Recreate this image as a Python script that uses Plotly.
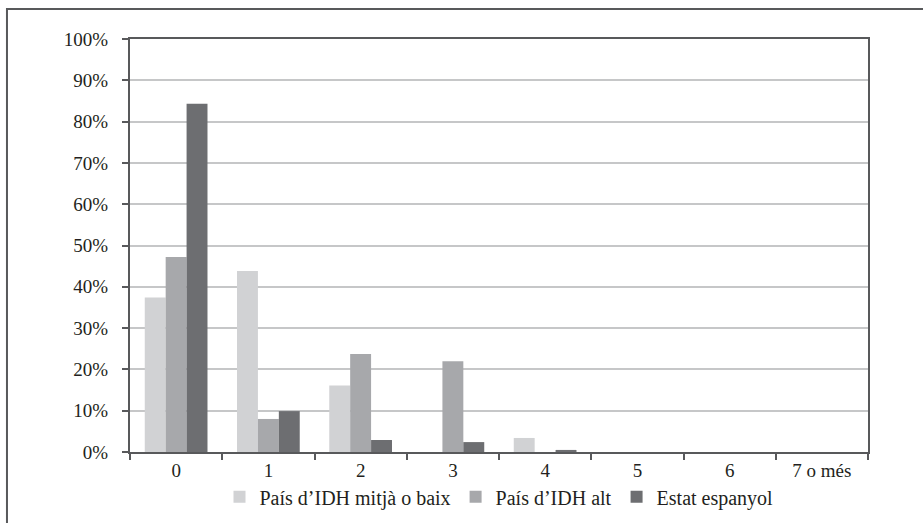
import plotly.graph_objects as go

categories = ["0", "1", "2", "3", "4", "5", "6", "7 o més"]
series_names = ["País d’IDH mitjà o baix", "País d’IDH alt", "Estat espanyol"]
low_mid = [37.4, 43.8, 16.1, 0, 3.4, 0, 0, 0]
high = [47.2, 8.0, 23.7, 22.0, 0, 0, 0, 0]
spain = [84.3, 9.9, 2.9, 2.4, 0.5, 0, 0, 0]
y_ticks = list(range(0, 101, 10))
y_tick_labels = [f"{v}%" for v in y_ticks]

colors = ["#d1d2d4", "#a7a8ab", "#6d6e71"]
FONT = "Liberation Serif"

fig = go.Figure()
for name, vals, col in zip(series_names, [low_mid, high, spain], colors):
    fig.add_trace(go.Bar(x=categories, y=vals, name=name, marker=dict(color=col, line=dict(width=0))))

fig.update_layout(
    width=923, height=523,
    margin=dict(l=130, r=55, t=39, b=71, autoexpand=False),
    paper_bgcolor="white", plot_bgcolor="white",
    barmode="group", bargap=0.32, bargroupgap=0,
    font=dict(family=FONT, size=19, color="#231f20"),
    showlegend=True,
    legend=dict(orientation="h", x=0.5, xanchor="center", yref="container", y=0.05, yanchor="middle",
                font=dict(family=FONT, size=20, color="#231f20"), itemwidth=30,
                traceorder="normal"),
    xaxis=dict(type="category", tickson="boundaries", ticks="outside", ticklen=6,
               tickcolor="#58595b", tickwidth=2, showline=True, linecolor="#58595b",
               linewidth=2, mirror=True, showgrid=False),
    yaxis=dict(range=[0, 100], tickvals=y_ticks, ticktext=y_tick_labels, ticks="outside",
               ticklen=6, tickcolor="#58595b", tickwidth=2, showline=True, linecolor="#58595b",
               linewidth=2, mirror=True, gridcolor="#c6c7c8", gridwidth=1.5,
               ticklabelstandoff=10, zeroline=False),
    shapes=[dict(type="rect", xref="paper", yref="paper", x0=-0.1667, x1=1.3, y0=-0.4, y1=1.0726,
                 line=dict(color="#58595b", width=2), layer="below")],
)

fig.write_html("out.html", config={"displayModeBar": False},
               post_script="document.body.style.margin='0';")
